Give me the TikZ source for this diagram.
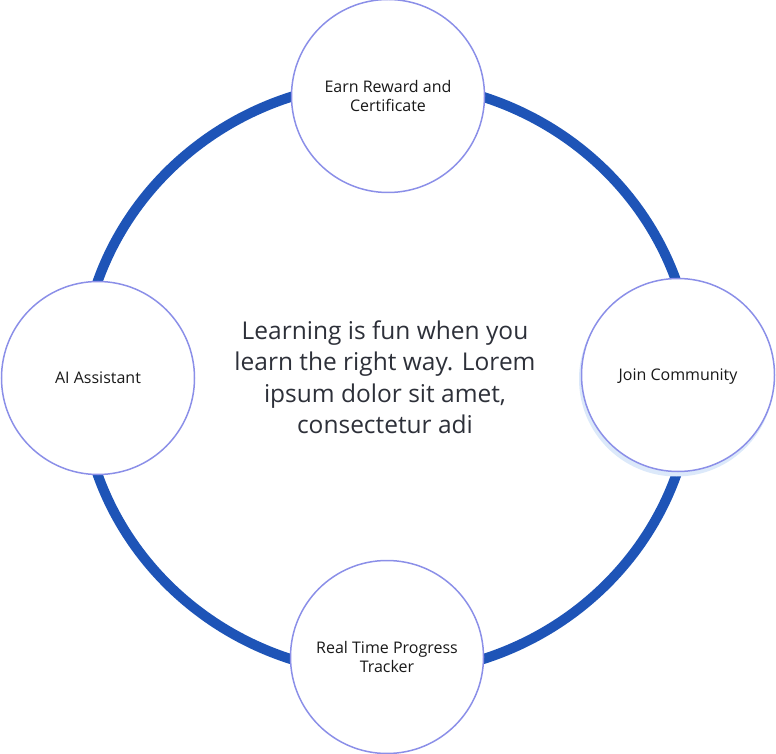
\documentclass[tikz,border=0pt]{standalone}
\usepackage{fontspec}
\setmainfont{Open Sans}
\usepackage{tikz}
\usetikzlibrary{calc,positioning}
\definecolor{ringblue}{HTML}{1E54B7}
\definecolor{rimline}{HTML}{8B8FE8}
\definecolor{haze}{HTML}{DCE9FA}
\definecolor{inktext}{HTML}{2D3039}

\begin{document}
\begin{tikzpicture}[x=1pt,y=1pt,
    feature/.style={circle,draw=rimline,line width=1.5pt,fill=white,minimum size=193pt,
                    align=center,font=\fontsize{16}{19.5}\selectfont,text=black!90},
    hubtext/.style={align=center,font=\fontsize{24.5}{31.5}\selectfont,text=inktext}]
                    \useasboundingbox (0,0) rectangle (776,753);
                    \coordinate (hub) at (387,375);
                    \draw[ringblue,line width=10pt] (hub) ellipse [x radius=306,y radius=296];
                    % shadow behind the right circle
                    \fill[haze] (676.5,374) circle (97.5);
                    \node[feature] (reward) at (388,657) {Earn Reward and\\Certificate};
                    \node[feature] (assist) at (98,375) {AI Assistant};
                    \node[feature,text depth=0pt] (community) at (678,378) {Join Community};
                    \node[feature] (tracker) at (387,96) {Real Time Progress\\Tracker};
                    \node[hubtext] (blurb) at (385,376) {Learning is fun when you\\learn the right way. Lorem\\ipsum dolor sit amet,\\consectetur adi};
                \end{tikzpicture}
\end{document}
